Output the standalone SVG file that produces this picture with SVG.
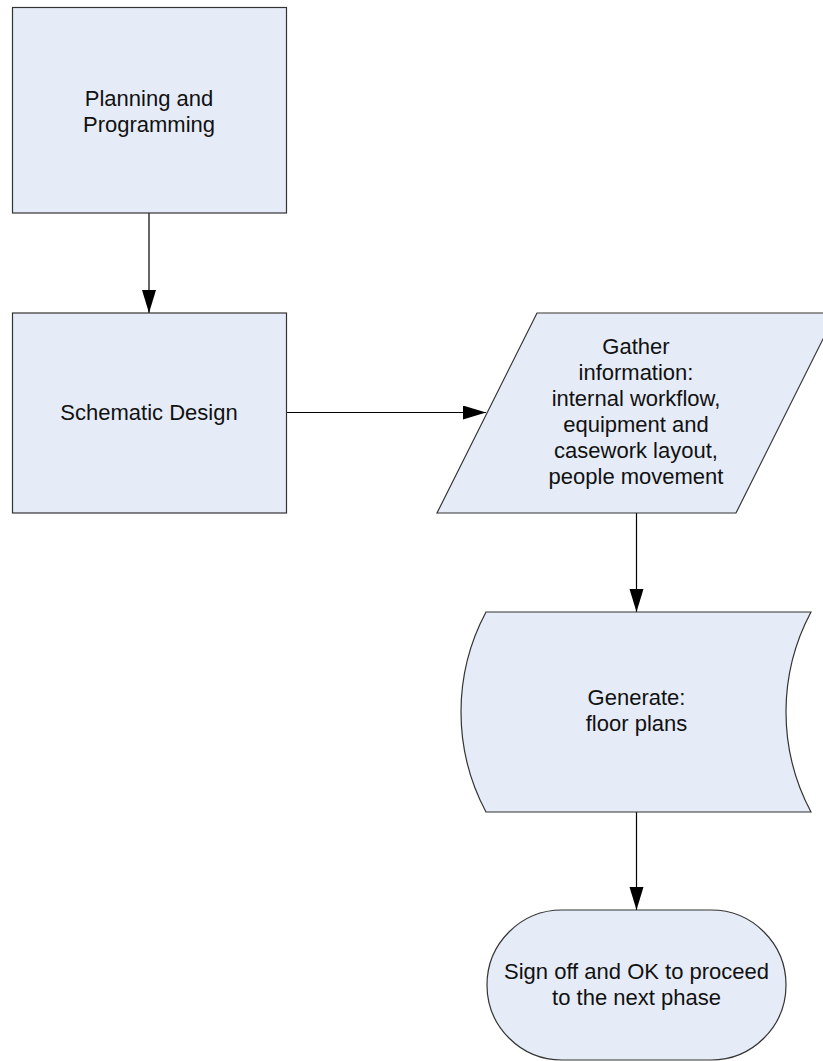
<svg xmlns="http://www.w3.org/2000/svg" width="823" height="1061" viewBox="0 0 823 1061">
<style>
.shape{fill:#e6ecf7;stroke:#333333;stroke-width:1.2}
.lbl{font-family:"Liberation Sans",Arial,sans-serif;font-size:22px;fill:#111111;text-anchor:middle}
.conn{stroke:#000000;stroke-width:1.2;fill:none;marker-end:url(#arr)}
</style>
<defs>
<marker id="arr" markerUnits="userSpaceOnUse" markerWidth="24" markerHeight="15" refX="23" refY="7" orient="auto">
<path d="M0,0 L23,7 L0,14 Z" fill="#000000"/>
</marker>
</defs>
<rect width="823" height="1061" fill="#ffffff"/>
<g id="connectors">
<line class="conn" x1="149" y1="213" x2="149" y2="313"/>
<line class="conn" x1="286.5" y1="412.5" x2="486" y2="412.5"/>
<line class="conn" x1="636.5" y1="513" x2="636.5" y2="612"/>
<line class="conn" x1="636.5" y1="812" x2="636.5" y2="910"/>
</g>
<g id="planning">
<rect class="shape" x="12.5" y="7.5" width="274" height="205.5"/>
<text class="lbl" x="149" y="106">Planning and</text>
<text class="lbl" x="149" y="132">Programming</text>
</g>
<g id="schematic">
<rect class="shape" x="12.5" y="313" width="274" height="200"/>
<text class="lbl" x="149" y="420">Schematic Design</text>
</g>
<g id="gather">
<polygon class="shape" points="537,313 836,313 736,513 437,513"/>
<text class="lbl" x="636" y="354">Gather</text>
<text class="lbl" x="636" y="380">information:</text>
<text class="lbl" x="636" y="406">internal workflow,</text>
<text class="lbl" x="636" y="432">equipment and</text>
<text class="lbl" x="636" y="458">casework layout,</text>
<text class="lbl" x="636" y="484">people movement</text>
</g>
<g id="generate">
<path class="shape" d="M486,612 L811,612 A212.5,212.5 0 0 0 811,812 L486,812 A212.5,212.5 0 0 1 486,612 Z"/>
<text class="lbl" x="636.5" y="705">Generate:</text>
<text class="lbl" x="636.5" y="731">floor plans</text>
</g>
<g id="signoff">
<rect class="shape" x="487" y="910" width="299" height="150" rx="75" ry="75"/>
<text class="lbl" x="636.5" y="979">Sign off and OK to proceed</text>
<text class="lbl" x="636.5" y="1005">to the next phase</text>
</g>
</svg>
